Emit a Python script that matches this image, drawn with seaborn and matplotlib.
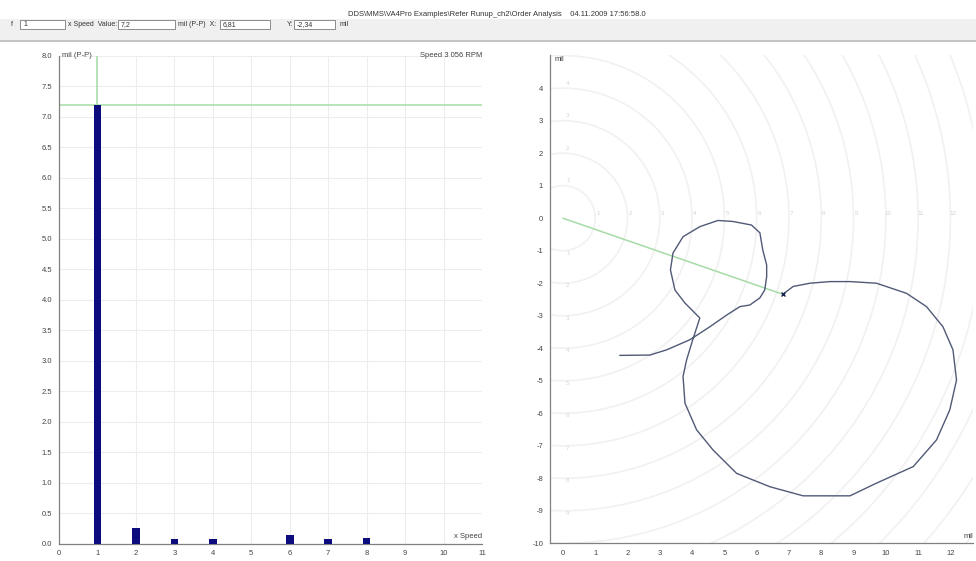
import matplotlib.pyplot as plt
import matplotlib.patches as mpatches
import matplotlib.lines as mlines
import matplotlib.ticker as mticker
import seaborn as sns
import pandas as pd

# --- data: order spectrum (left) ---
orders = [1, 2, 3, 4, 5, 6, 7, 8]
amplitudes = [7.2, 0.26, 0.08, 0.08, 0.0, 0.14, 0.09, 0.10]

# cursor readout
cursor_order = 1
cursor_value = 7.2
cursor_x = 6.81
cursor_y = -2.34

# --- data: 1x vector orbit during run-up (right) ---
orbit_x = [1.76, 2.69, 3.21, 3.93, 4.55, 5.07, 5.48, 5.79, 6.10, 6.25, 6.31, 6.31,
           6.19, 6.10, 5.84, 5.26, 4.80, 4.24, 3.72, 3.41, 3.33, 3.47, 3.78, 4.24,
           4.02, 3.83, 3.72, 3.78, 4.14, 4.65, 5.38, 6.41, 7.44, 8.89, 9.71, 10.85,
           11.57, 11.98, 12.19, 12.08, 11.77, 11.26, 10.64, 9.71, 8.89, 8.27, 7.65,
           7.13, 6.81]
orbit_y = [-4.22, -4.21, -4.05, -3.74, -3.34, -2.98, -2.72, -2.67, -2.45, -2.21, -1.80, -1.44,
           -0.98, -0.45, -0.21, -0.10, -0.07, -0.26, -0.57, -1.07, -1.59, -2.21, -2.61, -3.07,
           -3.74, -4.36, -4.87, -5.69, -6.51, -7.13, -7.85, -8.26, -8.54, -8.54, -8.15, -7.64,
           -6.82, -5.90, -4.98, -4.05, -3.34, -2.72, -2.31, -2.00, -1.95, -1.95, -2.00,
           -2.10, -2.34]

ring_radii = list(range(1, 17))
ring_labels_x = list(range(1, 13))
ring_labels_up = [1, 2, 3, 4]
ring_labels_down = [1, 2, 3, 4, 5, 6, 7, 8, 9]

left_xticks = [0, 1, 2, 3, 4, 5, 6, 7, 8, 9, 10, 11]
left_yticks = [0.0, 0.5, 1.0, 1.5, 2.0, 2.5, 3.0, 3.5, 4.0, 4.5, 5.0, 5.5, 6.0, 6.5, 7.0, 7.5, 8.0]
right_xticks = [0, 1, 2, 3, 4, 5, 6, 7, 8, 9, 10, 11, 12]
right_yticks = [-10, -9, -8, -7, -6, -5, -4, -3, -2, -1, 0, 1, 2, 3, 4]

title_text = r"DDS\MMS\VA4Pro Examples\Refer Runup_ch2\Order Analysis    04.11.2009 17:56:58.0"
speed_text = "Speed 3 056 RPM"

spectrum = pd.DataFrame({"order": orders, "amp": amplitudes})
orbit = pd.DataFrame({"x": orbit_x, "y": orbit_y})

# --- styling ---
sns.set_style("white")
plt.rcParams['font.family'] = ['Liberation Sans', 'DejaVu Sans']
plt.rcParams['axes.unicode_minus'] = False

W, H = 976, 561
fig = plt.figure(figsize=(W / 100, H / 100), dpi=100)

GREEN = '#a6dba6'
NAVY = '#0c0c7e'
SPINE = '#808080'
TXT = '#444444'
FS = 5.5
FS_HEAD = 5.0

def px_axes(x0, y0, x1, y1):
    # pixel box (top-left origin) -> figure fraction rect
    return [x0 / W, 1 - y1 / H, (x1 - x0) / W, (y1 - y0) / H]

def style_axes(ax):
    for s in ['top', 'right']:
        ax.spines[s].set_visible(False)
    for s in ['left', 'bottom']:
        ax.spines[s].set_color(SPINE)
        ax.spines[s].set_linewidth(0.9)
    ax.tick_params(axis='both', labelsize=FS, colors=SPINE, labelcolor=TXT,
                   length=3, width=0.7, pad=2)
    ax.tick_params(axis='x', direction='inout', length=5)
    ax.set_xlabel('')
    ax.set_ylabel('')

# --- header ---
fig.add_artist(mpatches.Rectangle((0, 1 - 41 / H), 1, 22 / H, transform=fig.transFigure,
                                  fc='#f0f0f0', ec='none'))
fig.add_artist(mlines.Line2D([0, 1], [1 - 41 / H] * 2, transform=fig.transFigure,
                             color='#c4c4c4', lw=1.5))
fig.text(497 / W, 1 - 15 / H, title_text, ha='center', va='center', fontsize=FS, color='#333333')

boxes = [(20, 65, '1'), (118, 175, '7,2'), (220, 270, '6,81'), (294, 335, '-2,34')]
for x0, x1, val in boxes:
    fig.add_artist(mpatches.Rectangle((x0 / W, 1 - 28.5 / H), (x1 - x0) / W, 8 / H,
                                      transform=fig.transFigure, fc='white', ec='#7a7a7a', lw=0.6))
    fig.text((x0 + 3) / W, 1 - 24.5 / H, val, ha='left', va='center', fontsize=FS_HEAD, color='#333333')
labels = [(11, 'f'), (68, 'x Speed  Value:'), (178, 'mil (P-P)  X:'), (287, 'Y:'), (340, 'mil')]
for x0, txt in labels:
    fig.text(x0 / W, 1 - 24.5 / H, txt, ha='left', va='center', fontsize=FS_HEAD, color='#333333')

# --- left: order spectrum ---
ax1 = fig.add_axes(px_axes(59, 55.7, 482, 544))
ax1.grid(True, color='#ededed', lw=0.8)
ax1.set_axisbelow(True)
ax1.axhline(cursor_value, color=GREEN, lw=1.1, zorder=1)
ax1.plot([cursor_order, cursor_order], [cursor_value, 8.0], color=GREEN, lw=1.1, zorder=1)
sns.barplot(data=spectrum, x="order", y="amp", native_scale=True, width=0.2,
            color=NAVY, saturation=1, edgecolor='none', ax=ax1, zorder=3)
ax1.set_xlim(0, 11)
ax1.set_ylim(0, 8)
ax1.set_xticks(left_xticks)
ax1.set_yticks(left_yticks)
ax1.yaxis.set_major_formatter(mticker.FormatStrFormatter('%.1f'))
style_axes(ax1)
ax1.text(0.08, 8.0, 'mil (P-P)', ha='left', va='center', fontsize=FS, color=TXT)
ax1.text(11, 8.0, speed_text, ha='right', va='center', fontsize=FS, color=TXT)
ax1.text(11, 0.07, 'x Speed', ha='right', va='bottom', fontsize=FS, color=TXT)

# --- right: polar orbit ---
ax2 = fig.add_axes(px_axes(550, 55, 973, 543.3))
for r in ring_radii:
    ax2.add_patch(mpatches.Circle((0, 0), r, fill=False, ec='#f1f1f1', lw=1.2, zorder=0))
for r in ring_labels_x:
    ax2.text(r + 0.08, 0.15, str(r), ha='center', va='center', fontsize=4.5, color='#d4d4d4')
for r in ring_labels_up:
    ax2.text(0.15, r + 0.15, str(r), ha='center', va='center', fontsize=4.5, color='#d4d4d4')
for r in ring_labels_down:
    ax2.text(0.15, -r - 0.08, str(r), ha='center', va='center', fontsize=4.5, color='#d4d4d4')
ax2.plot([0, cursor_x], [0, cursor_y], color=GREEN, lw=1.1, zorder=2)
sns.lineplot(data=orbit, x="x", y="y", sort=False, estimator=None, color='#505a76',
             lw=1.0, ax=ax2, zorder=3)
ax2.plot([cursor_x], [cursor_y], marker='x', ms=3, mew=1.0, color='#1c2350', zorder=4)
ax2.set_xlim(-0.4, 12.7)
ax2.set_ylim(-10, 5.02)
ax2.set_xticks(right_xticks)
ax2.set_yticks(right_yticks)
style_axes(ax2)
ax2.text(-0.25, 5.0, 'mil', ha='left', va='top', fontsize=FS, color=TXT)
ax2.text(12.7, -9.9, 'mil', ha='right', va='bottom', fontsize=FS, color=TXT)

fig.savefig('out.png', dpi=100)
